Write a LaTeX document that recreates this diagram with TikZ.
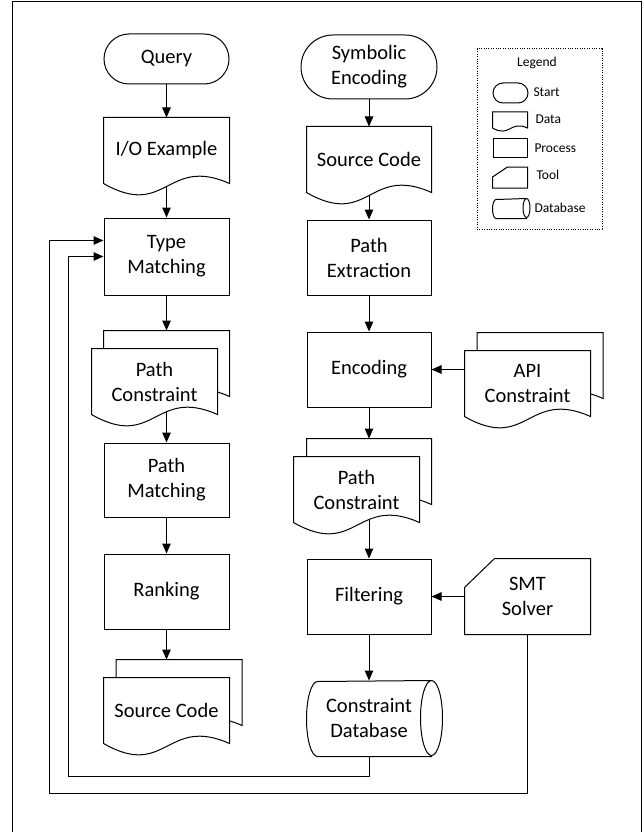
\documentclass[tikz,border=0pt]{standalone}
\usepackage{fontspec}
\setmainfont{Carlito}
\usetikzlibrary{arrows.meta,calc}

\pgfdeclarelayer{links}
\pgfdeclarelayer{shapes}
\pgfsetlayers{links,shapes,main}

% data sheet with a wavy bottom: node, rise, dip
\newcommand\wavepath[3]{(#1.north west) -- (#1.north east) -- (#1.south east)
  .. controls ($(#1.south)+(0,-#2)$) and ($(#1.south)+(0,#3)$) .. (#1.south west) -- cycle}
% tool with its corner cut off: node, cut width, cut height
\newcommand\toolpath[3]{(#1.south west) -- ($(#1.north west)+(0,#3)$) -- ($(#1.north west)+(#2,0)$)
  -- (#1.north east) -- (#1.south east) -- cycle}
% stored database: node, x radius, y radius
\newcommand\storepath[3]{(#1.south east) -- ($(#1.south west)+(#2,0)$)
  arc[start angle=90, end angle=270, x radius=#2, y radius=#3] -- (#1.north east)
  arc[start angle=270, end angle=450, x radius=#2, y radius=#3] -- cycle
  (#1.north east) arc[start angle=270, end angle=90, x radius=#2, y radius=#3]}

\tikzset{
  every node/.style={font=\fontsize{20.5}{25}\selectfont, align=center, inner sep=0pt},
  procbox/.style={draw, minimum width=125pt, minimum height=75pt},
  startbox/.style={draw, minimum width=125pt, minimum height=50pt, rounded corners=25pt},
  databox/.style={minimum width=125pt, minimum height=65pt},
  toolbox/.style={minimum width=125pt, minimum height=75pt},
  storebox/.style={minimum width=124pt, minimum height=75pt},
  legtext/.style={font=\fontsize{13.5}{16}\selectfont},
  outline/.style={draw, fill=white, line width=1pt},
  arr/.style={line width=1pt, -{Triangle[length=10pt,width=8.5pt]}}
}

\begin{document}
\begin{tikzpicture}[x=1pt, y=-1pt, line width=1pt]
    \useasboundingbox (0,0) rectangle (644,832);
    % Frame
    \draw (12,834) -- (12,1.5) -- (641,1.5) -- (641,834);

    % Query side
    \node[startbox] (query) at (166.5,59) {Query};
    \node[databox] (ioex) at (166.5,150.5) {I/O Example};
    \node[procbox, minimum height=77pt] (typem) at (166.5,256.5) {Type\\Matching};
    \node[databox] (pcleftb) at (166.5,363.5) {};
    \node[databox] (pcleft) at (154.5,381.5) {Path\\Constraint};
    \node[procbox, minimum height=74pt] (pathm) at (166.5,480) {Path\\Matching};
    \node[procbox] (rank) at (166.5,591.5) {Ranking};
    \node[databox] (srcleftb) at (179,692.5) {};
    \node[databox] (srcleft) at (166.5,710.5) {Source Code};

    % Encoding side
    \node[startbox, minimum width=136pt, minimum height=64pt, rounded corners=32pt] (symenc) at (369,67) {Symbolic\\Encoding};
    \node[databox, minimum width=124pt] (srcright) at (369,159.5) {Source Code};
    \node[procbox, minimum width=124pt] (pathx) at (369,257.5) {Path\\Extraction};
    \node[procbox, minimum width=124pt] (encode) at (369,369.5) {Encoding};
    \node[databox, minimum width=124pt] (pcrightb) at (369,471.5) {};
    \node[databox] (pcright) at (356.5,489.5) {Path\\Constraint};
    \node[procbox, minimum width=124pt] (filter) at (369,596.5) {Filtering};
    \node[storebox] (cdb) at (369,718.5) {Constraint\\Database};
    \node[databox] (apib) at (540,365.5) {};
    \node[databox] (api) at (527.5,383.5) {API\\Constraint};
    \node[toolbox] (smt) at (527.5,596.5) {SMT\\Solver};

    % Legend
    \draw[dash pattern=on 1pt off 1.4pt] (477,49) rectangle (602,229);
    \node[legtext] (legtitle) at (537,63) {Legend};
    \node[startbox, minimum width=35pt, minimum height=20pt, rounded corners=10pt] (lstart) at (510.5,93) {};
    \node[databox, minimum width=34pt, minimum height=15pt] (ldata) at (510,120) {};
    \node[procbox, minimum width=34pt, minimum height=19pt] (lproc) at (510,147.5) {};
    \node[toolbox, minimum width=34pt, minimum height=20pt] (ltool) at (510,177.5) {};
    \node[storebox, minimum width=33pt, minimum height=19pt] (lstore) at (509.5,208.5) {};
    \node[legtext, anchor=west] (lstartt) at (533,92) {Start};
    \node[legtext, anchor=west] (ldatat) at (535,119) {Data};
    \node[legtext, anchor=west] (lproct) at (534,148) {Process};
    \node[legtext, anchor=west] (ltoolt) at (536,175) {Tool};
    \node[legtext, anchor=west] (lstoret) at (534,208) {Database};

    % Outlines
    \begin{pgfonlayer}{shapes}
        \foreach \n in {ioex,pcleftb,pcleft,srcleftb,srcleft,srcright,pcrightb,pcright,apib,api}
            \draw[outline] \wavepath{\n}{28}{36};
        \draw[outline] \wavepath{ldata}{8}{10};
        \draw[outline] \toolpath{smt}{30}{29};
        \draw[outline] \toolpath{ltool}{15}{10};
        \draw[outline] \storepath{cdb}{11}{37.5};
        \draw[outline] \storepath{lstore}{3.5}{9.5};
    \end{pgfonlayer}

    % Flow
    \coordinate (innerc) at (68,776);
    \coordinate (outerc) at (49,793);
    \begin{pgfonlayer}{links}
        \draw[arr] (query) -- (ioex);
        \draw[arr] (ioex) -- (typem);
        \draw[arr] (typem) -- (pcleftb);
        \draw[arr] (pcleftb.center) -- (pathm);
        \draw[arr] (pathm) -- (rank);
        \draw[arr] (rank) -- (rank |- srcleftb.north);
        \draw[arr] (symenc) -- (srcright);
        \draw[arr] (srcright) -- (pathx);
        \draw[arr] (pathx) -- (encode);
        \draw[arr] (encode) -- (pcrightb);
        \draw[arr] (pcrightb.center) -- (filter);
        \draw[arr] (filter) -- (cdb);
        \draw[arr] (api.west |- encode) -- (encode);
        \draw[arr] (smt.west |- filter) -- (filter);
        \draw[arr] (cdb.south) |- (innerc) |- (typem.west);
        \draw[arr] (smt.south) |- (outerc) |- ($(typem.west)+(0,-16)$);
    \end{pgfonlayer}
\end{tikzpicture}
\end{document}
